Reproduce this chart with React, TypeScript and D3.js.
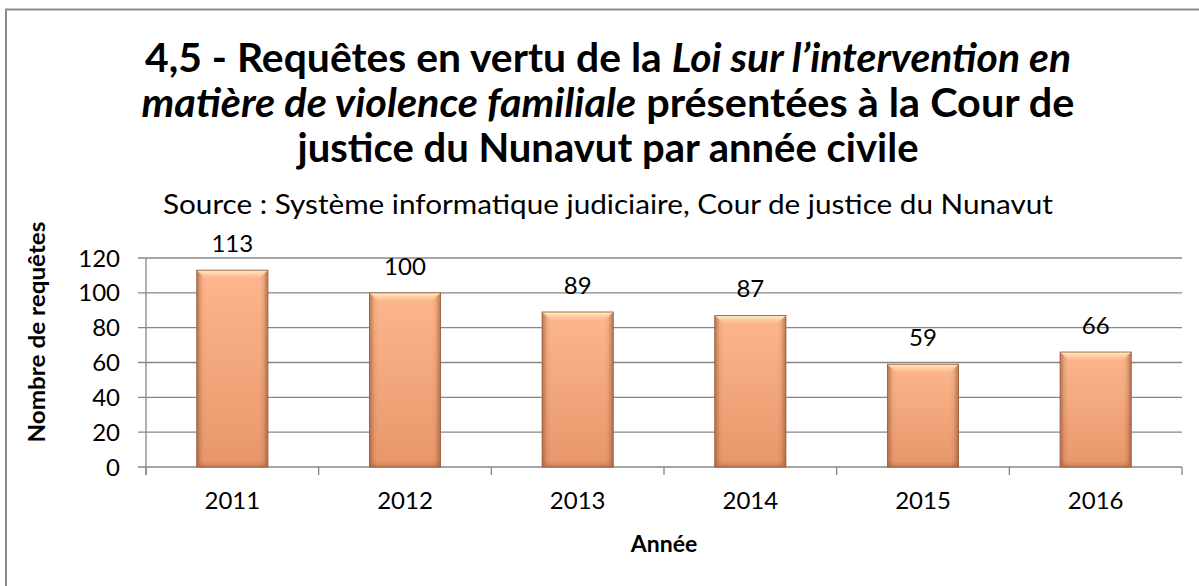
import React from "react";
import * as d3 from "d3";

const years = ["2011", "2012", "2013", "2014", "2015", "2016"];
const requests = [113, 100, 89, 87, 59, 66];
const yTicks = [0, 20, 40, 60, 80, 100, 120];

const titleLine1 = [
  { t: "4,5 - Requêtes en vertu de la ", i: false },
  { t: "Loi sur l’intervention en", i: true },
];
const titleLine2 = [
  { t: "matière de violence familiale", i: true },
  { t: " présentées à la Cour de", i: false },
];
const titleLine3 = [{ t: "justice du Nunavut par année civile", i: false }];
const subtitle = "Source : Système informatique judiciaire, Cour de justice du Nunavut";
const yTitle = "Nombre de requêtes";
const xTitle = "Année";

const W = 1199;
const H = 586;
const FONT = "Lato, 'Open Sans', 'Liberation Sans', sans-serif";

export default function App() {
  const left = 146;
  const right = 1182;
  const x = d3
    .scaleBand<string>()
    .domain(years)
    .range([left, right])
    .paddingInner(0.588)
    .paddingOuter(0.294);
  const y = d3.scaleLinear().domain([0, 120]).range([467, 258]);
  const bounds = d3.scaleLinear().domain([0, years.length]).range([left, right]);
  const bw = x.bandwidth();
  const grid = "#878787";

  const titleLines = [
    { parts: titleLine1, y: 72, len: 926 },
    { parts: titleLine2, y: 117, len: 933 },
    { parts: titleLine3, y: 162, len: 621 },
  ];

  return (
    <svg
      width={W}
      height={H}
      style={{ position: "absolute", left: 0, top: 0, background: "#fff" }}
      fontFamily={FONT}
    >
      <defs>
        <linearGradient id="barV" x1="0" y1="0" x2="0" y2="1">
          <stop offset="0" stopColor="#FDB68C" />
          <stop offset="1" stopColor="#E8966B" />
        </linearGradient>
        <linearGradient id="barH" x1="0" y1="0" x2="1" y2="0">
          <stop offset="0" stopColor="#8a4e2c" stopOpacity="0.6" />
          <stop offset="0.07" stopColor="#8a4e2c" stopOpacity="0.1" />
          <stop offset="0.12" stopColor="#8a4e2c" stopOpacity="0" />
          <stop offset="0.88" stopColor="#8a4e2c" stopOpacity="0" />
          <stop offset="0.93" stopColor="#8a4e2c" stopOpacity="0.1" />
          <stop offset="1" stopColor="#8a4e2c" stopOpacity="0.6" />
        </linearGradient>
        <linearGradient id="bevelTop" x1="0" y1="0" x2="0" y2="1">
          <stop offset="0" stopColor="#FFF2CC" stopOpacity="1" />
          <stop offset="1" stopColor="#FDC59A" stopOpacity="0.3" />
        </linearGradient>
        <linearGradient id="bevelBot" x1="0" y1="0" x2="0" y2="1">
          <stop offset="0" stopColor="#a0603a" stopOpacity="0" />
          <stop offset="1" stopColor="#a0603a" stopOpacity="0.45" />
        </linearGradient>
      </defs>

      {/* frame */}
      <path d={`M6,${H} L6,9.5 L${W},9.5`} fill="none" stroke="#8c8c8c" strokeWidth={2} />

      {/* title */}
      {titleLines.map((ln, k) => (
        <text
          key={k}
          x={608}
          y={ln.y}
          textAnchor="middle"
          fontSize={40}
          fontWeight="bold"
          fill="#000"
          textLength={ln.len}
          lengthAdjust="spacingAndGlyphs"
        >
          {ln.parts.map((p, j) => (
            <tspan key={j} fontStyle={p.i ? "italic" : "normal"}>
              {p.t}
            </tspan>
          ))}
        </text>
      ))}
      <text
        x={608}
        y={214}
        textAnchor="middle"
        fontSize={26}
        fill="#000"
        textLength={890}
        lengthAdjust="spacingAndGlyphs"
      >
        {subtitle}
      </text>

      {/* gridlines */}
      {yTicks.map((t) => (
        <line key={t} x1={left - 8} x2={right} y1={y(t)} y2={y(t)} stroke={grid} strokeWidth={1.3} />
      ))}
      {/* y axis */}
      <line x1={left} x2={left} y1={y(120)} y2={y(0) + 8} stroke={grid} strokeWidth={1.3} />
      {d3.range(years.length + 1).map((i) => (
        <line key={i} x1={bounds(i)} x2={bounds(i)} y1={y(0)} y2={y(0) + 8} stroke={grid} strokeWidth={1.3} />
      ))}
      {yTicks.map((t) => (
        <text key={t} x={120} y={y(t) + 8.5} textAnchor="end" fontSize={24} fill="#000">
          {t}
        </text>
      ))}

      {/* bars */}
      {requests.map((v, i) => {
        const x0 = x(years[i])!;
        const y0 = y(v);
        const y1 = y(0);
        const bev = 8;
        return (
          <g key={years[i]}>
            <rect x={x0} y={y0} width={bw} height={y1 - y0} fill="url(#barV)" />
            <rect x={x0} y={y0} width={bw} height={y1 - y0} fill="url(#barH)" />
            <path
              d={`M${x0},${y0} L${x0 + bw},${y0} L${x0 + bw - bev},${y0 + bev} L${x0 + bev},${y0 + bev} Z`}
              fill="url(#bevelTop)"
            />
            <rect x={x0} y={y1 - 6} width={bw} height={6} fill="url(#bevelBot)" />
            <rect x={x0} y={y0} width={bw} height={y1 - y0} fill="none" stroke="#9b5f3b" strokeWidth={0.9} />
            <text x={x0 + bw / 2} y={y0 - 18} textAnchor="middle" fontSize={24} fill="#000">
              {v}
            </text>
          </g>
        );
      })}

      {/* x labels */}
      {years.map((yr) => (
        <text key={yr} x={x(yr)! + bw / 2} y={509} textAnchor="middle" fontSize={24} fill="#000">
          {yr}
        </text>
      ))}
      <text x={(left + right) / 2} y={552} textAnchor="middle" fontSize={23} fontWeight="bold" fill="#000">
        {xTitle}
      </text>
      <text
        transform={`translate(45,${332}) rotate(-90)`}
        textAnchor="middle"
        fontSize={23}
        fontWeight="bold"
        fill="#000"
        textLength={221}
        lengthAdjust="spacingAndGlyphs"
      >
        {yTitle}
      </text>
    </svg>
  );
}
